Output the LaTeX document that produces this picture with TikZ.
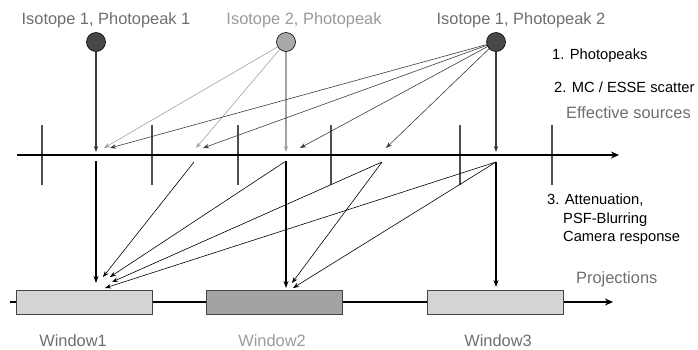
\documentclass[tikz,border=0pt]{standalone}
\usepackage{fontspec}
\setmainfont{Liberation Sans}
\usetikzlibrary{arrows.meta, positioning}
\definecolor{srcdark}{HTML}{474747}
\definecolor{srclight}{HTML}{A8A8A8}
\definecolor{labelgrey}{HTML}{6E6E6E}
\definecolor{labellight}{HTML}{9A9A9A}
\definecolor{raydark}{HTML}{3C3C3C}
\definecolor{raylight}{HTML}{A2A2A2}
\definecolor{tickgrey}{HTML}{4E4E4E}
\definecolor{winlight}{HTML}{D4D4D4}
\definecolor{windark}{HTML}{A3A3A3}
\definecolor{boxedge}{HTML}{444444}
\tikzset{
    source/.style={circle, draw=black, line width=0.6pt, minimum size=19pt, inner sep=0pt},
    greylabel/.style={text=labelgrey, font=\fontsize{16.4}{19}\selectfont},
    blacklabel/.style={text=black, font=\fontsize{14.7}{17}\selectfont, anchor=west, inner sep=0pt},
    window/.style={draw=boxedge, line width=0.9pt, minimum width=136pt, minimum height=24pt, inner sep=0pt},
    ray/.style={-{Stealth[length=6pt,width=4.5pt]}, line width=0.6pt},
    beam/.style={-{Stealth[length=7pt,width=5pt]}, line width=1.7pt},
    tick/.style={draw=tickgrey, line width=1.2pt},
    mainaxis/.style={-{Stealth[length=8pt,width=7pt]}, line width=2.2pt}
}

\begin{document}
\begin{tikzpicture}[x=1pt, y=-1pt]
                    \useasboundingbox (0,0) rectangle (698,349);

                    \node[greylabel] (l1) at (106,20) {Isotope 1, Photopeak 1};
                    \node[greylabel, text=labellight] (l2) at (304,20) {Isotope 2, Photopeak};
                    \node[greylabel] (l3) at (521,20) {Isotope 1, Photopeak 2};

                    \node[source, fill=srcdark] (s1) at (96,42) {};
                    \node[source, fill=srclight] (s2) at (286,42) {};
                    \node[source, fill=srcdark] (s3) at (496,42) {};

                    \node[blacklabel] (n1) at (552,56) {1. Photopeaks};
                    \node[blacklabel] (n2) at (554,87) {2. MC / ESSE scatter};
                    \node[greylabel, anchor=west, inner sep=0pt] (n3) at (566,113) {Effective sources};
                    \node[blacklabel] (n4) at (547,200) {3. Attenuation,};
                    \node[blacklabel] (n5) at (563,220) {PSF-Blurring};
                    \node[blacklabel] (n6) at (563,238) {Camera response};
                    \node[greylabel, anchor=west, inner sep=0pt] (n7) at (576,279) {Projections};

                    \foreach \x in {42,152,238,331,460,552}
                        \draw[tick] (\x,125) -- (\x,185);

                    \coordinate (ea) at (17,155);
                    \coordinate (eb) at (619,155);
                    \draw[mainaxis] (ea) -- (eb);

                    \coordinate (a1) at (96,152);
                    \coordinate (a2) at (104,148);
                    \coordinate (a3) at (110,148);
                    \coordinate (a4) at (196,148);
                    \coordinate (a5) at (203,148);
                    \coordinate (a6) at (286,152);
                    \coordinate (a7) at (300,148);
                    \coordinate (a8) at (386,148);
                    \coordinate (a9) at (496,152);

                    \draw[ray, raydark, line width=1.4pt] (s1) -- (a1);
                    \draw[ray, raylight, line width=1.4pt] (s2) -- (a6);
                    \draw[ray, raylight] (s2) -- (a2);
                    \draw[ray, raylight] (s2) -- (a4);
                    \draw[ray, raydark, line width=1.4pt] (s3) -- (a9);
                    \foreach \t in {a3,a5,a7,a8}
                        \draw[ray, raydark] (s3) -- (\t);

                    \coordinate (e1) at (96,161);
                    \coordinate (e2) at (194,162);
                    \coordinate (e3) at (286,161);
                    \coordinate (e4) at (382,162);
                    \coordinate (e5) at (496,162);

                    \coordinate (pa) at (10,302);
                    \coordinate (pb) at (613,302);
                    \draw[-{Stealth[length=8pt,width=7pt]}, line width=1.8pt] (pa) -- (pb);

                    \node[window, fill=winlight] (w1) at (84,302) {};
                    \node[window, fill=windark] (w2) at (274.5,302) {};
                    \node[window, fill=winlight] (w3) at (495.5,302) {};

                    \node[greylabel] (w1lab) at (73,341) {Window1};
                    \node[greylabel, text=labellight] (w2lab) at (272,341) {Window2};
                    \node[greylabel] (w3lab) at (498,341) {Window3};

                    \coordinate (t1) at (96,283);
                    \coordinate (t2) at (103,277);
                    \coordinate (t3) at (110,277);
                    \coordinate (t4) at (112,282);
                    \coordinate (t5) at (105,288);
                    \coordinate (t6) at (286,288);
                    \coordinate (t7) at (292,283);
                    \coordinate (t8) at (293,288);
                    \coordinate (t9) at (496,287);

                    \draw[beam] (e1) -- (t1);
                    \draw[beam] (e3) -- (t6);
                    \draw[beam] (e5) -- (t9);
                    \draw[ray] (e2) -- (t2);
                    \draw[ray] (e3) -- (t3);
                    \draw[ray] (e4) -- (t4);
                    \draw[ray] (e5) -- (t5);
                    \draw[ray] (e4) -- (t7);
                    \draw[ray] (e5) -- (t8);
                \end{tikzpicture}
\end{document}
